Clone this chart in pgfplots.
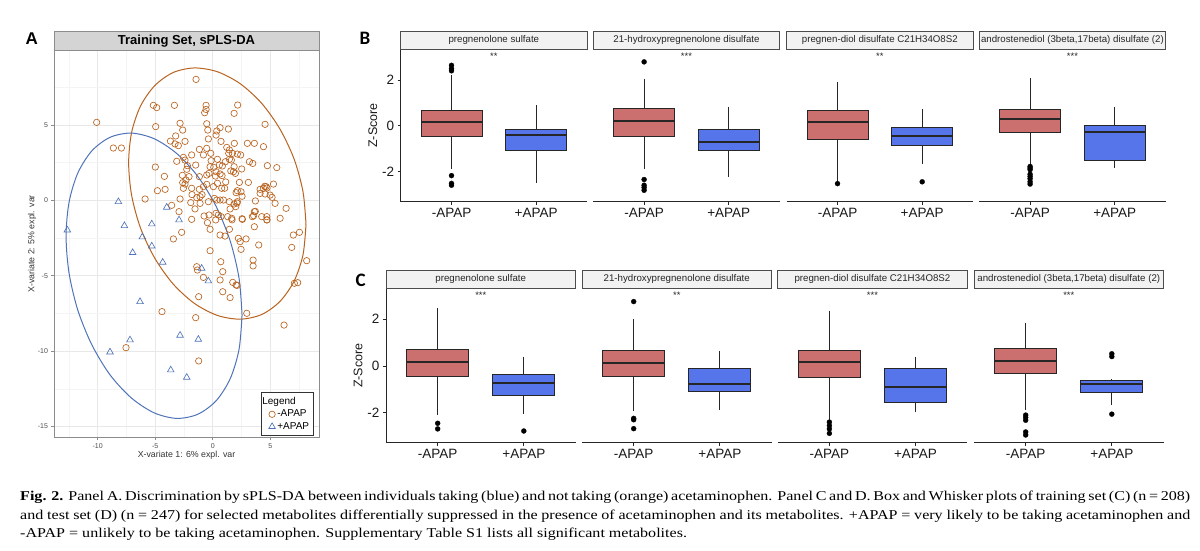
\documentclass[border=0pt]{standalone}
\usepackage{fontspec}
\setmainfont{Liberation Sans}
\newfontfamily\capfont[FakeStretch=1.19]{Liberation Serif}
\newfontfamily\labfont{Carlito}
\usepackage{pgfplots}
\pgfplotsset{compat=1.18}
\usepgfplotslibrary{statistics}
\definecolor{apapor}{RGB}{184,99,31}
\definecolor{apapbl}{RGB}{79,115,184}
\definecolor{boxred}{RGB}{203,111,111}
\definecolor{boxblue}{RGB}{86,117,234}
\definecolor{stripA}{RGB}{212,212,212}
\definecolor{stripB}{RGB}{242,242,242}
\pgfplotsset{
  facet/.style={
    scale only axis, anchor=south west,
    xmin=0.4, xmax=2.6,
    axis x line*=bottom,
    axis line style={-, black!85, line width=0.8pt},
    xtick={1,2}, xticklabels={-APAP,+APAP},
    tick align=outside, major tick length=3pt,
    tick style={black!85, line width=0.8pt},
    ticklabel style={font=\fontsize{13.5}{15}\selectfont, text=black!90},
    boxplot/draw direction=y,
    boxplot/every median/.style={line width=2pt},
    clip=false,
  },
  facetfirst/.style={facet, axis y line*=left, ytick={-2,0,2}, yticklabels={-2,0,2}, ylabel={Z-Score},
    every axis y label/.style={at={(rel axis cs:0,0.5)}, xshift=-28pt, rotate=90, anchor=center, font=\fontsize{12.5}{14}\selectfont, text=black!90}},
  facetrest/.style={facet, axis y line=none},
  fB/.style={width=186.3pt, height=152.4pt, ymin=-3.32, ymax=3.34},
  fC/.style={width=189.5pt, height=154pt, ymin=-3.28, ymax=3.30},
  redbox/.style={draw=black!85, fill=boxred, line width=0.9pt, mark=*, mark size=2.5pt, mark options={fill=black, draw=black, line width=0.3pt}},
  bluebox/.style={draw=black!85, fill=boxblue, line width=0.9pt, mark=*, mark size=2.5pt, mark options={fill=black, draw=black, line width=0.3pt}},
}
\tikzset{stripstyleB/.style={fill=stripB, draw=black!70, line width=0.6pt},
  stars/.style={font=\fontsize{9.4}{10}\selectfont, text=black!85}}
\begin{document}
\begin{tikzpicture}
\useasboundingbox (0,0) rectangle (1200pt,-551pt);

% ---------------- Panel A ----------------
\node[anchor=base west, font=\bfseries\fontsize{17}{18}\selectfont] at (22pt,-45pt) {A};
\begin{axis}[
  at={(54pt,-437.7pt)}, anchor=south west, scale only axis,
  width=265pt, height=387.7pt,
  xmin=-13.8, xmax=9.24, ymin=-15.74, ymax=9.97,
  xtick={-10,-5,0,5}, xticklabels={-10,-5,0,5},
  ytick={-15,-10,-5,0,5}, yticklabels={-15,-10,-5,0,5},
  minor xtick={-12.5,-7.5,-2.5,2.5,7.5},
  minor ytick={-12.5,-7.5,-2.5,2.5,7.5},
  grid=both,
  major grid style={black!9, line width=0.8pt},
  minor grid style={black!4.5, line width=0.5pt},
  minor tick length=0pt,
  tick pos=left, tick align=outside, major tick length=2.5pt,
  tick style={black!45, line width=0.6pt},
  axis line style={black!45, line width=0.7pt},
  ticklabel style={font=\fontsize{7}{8}\selectfont, text=black!70},
  xlabel={X-variate 1: 6\% expl. var},
  ylabel={X-variate 2: 5\% expl. var},
  every axis x label/.style={at={(rel axis cs:0.5,0)}, anchor=center, yshift=-17.5pt, font=\fontsize{8.8}{10}\selectfont, text=black!80},
  every axis y label/.style={at={(rel axis cs:0,0.5)}, xshift=-22pt, rotate=90, anchor=center, font=\fontsize{8.8}{10}\selectfont, text=black!80},
  legend style={at={(rel axis cs:1,0)}, anchor=south east, xshift=-5pt, yshift=2pt,
    draw=black!80, line width=0.7pt, font=\fontsize{10}{11}\selectfont, row sep=0pt, inner sep=2.5pt},
  legend cell align=left,
]
\addlegendimage{empty legend}
\addlegendentry{\hspace*{-15pt}Legend}
\addplot[only marks, mark=o, mark size=3.2pt, color=apapor, mark options={line width=0.65pt}] coordinates {
(-1.45,8.02) (-5.16,6.30) (-4.87,6.15) (-3.33,6.30) (-0.58,6.30) (-0.58,6.03) (-0.70,5.81) (2.17,6.32) (1.86,5.77)
(-10.09,5.17) (-4.96,4.89) (-2.84,5.11) (-2.61,4.66) (-0.52,5.08) (-0.43,4.66) (0.64,4.82) (0.35,4.60) (0.29,4.33)
(1.36,4.73) (4.55,5.04) (-3.22,4.27) (-3.68,3.93) (-3.28,3.74) (-2.99,3.63) (-2.41,3.91) (-0.38,4.07) (0.72,3.91)
(1.88,3.78) (3.01,3.78) (3.62,3.78) (4.41,3.56) (-8.64,3.47) (-7.94,3.47) (-1.16,3.38) (-0.52,3.45) (1.22,3.51)
(1.45,3.34) (-0.81,3.01) (-0.17,3.12) (1.39,3.12) (1.71,3.12) (2.14,3.07) (2.43,3.01) (-1.83,3.01) (-2.55,2.85)
(-2.41,2.67) (-3.13,2.59) (-1.48,2.34) (-0.14,2.63) (0.41,2.72) (1.10,2.56) (1.45,2.72) (1.62,2.67) (0.58,2.34)
(3.19,2.56) (3.48,2.45) (4.75,2.30) (5.57,2.17) (-4.99,2.21) (-2.20,2.30) (-2.26,2.06) (-0.23,2.23) (0.09,2.19)
(0.84,2.28) (1.86,2.23) (2.52,2.08) (-4.20,1.59) (-2.64,1.66) (-2.06,1.57) (-2.32,1.35) (-2.61,1.17) (-2.41,1.08)
(-1.16,1.57) (-0.52,1.68) (-0.32,1.79) (0.23,1.61) (0.29,1.90) (1.57,1.95) (1.80,1.90) (1.97,1.79) (0.81,1.64)
(0.64,1.75) (2.32,1.19) (3.10,1.19) (-0.52,1.06) (0.41,1.13) (1.13,1.22) (-2.55,0.80) (-1.83,0.80) (-1.16,0.73)
(-0.81,0.91) (-4.81,0.64) (-4.14,0.73) (-1.80,0.38) (-1.10,0.24) (-0.93,0.38) (0.06,0.91) (0.78,0.80) (1.04,0.80)
(2.14,0.64) (2.46,0.57) (2.03,0.51) (4.12,0.73) (4.41,0.80) (4.64,0.91) (5.28,1.08) (4.55,0.42) (4.99,0.35)
(4.12,0.46) (-5.88,0.09) (-3.57,-0.33) (-2.84,0.09) (-1.91,-0.15) (-1.39,0.18) (-1.10,-0.20) (-0.38,-0.09)
(0.14,0.13) (0.35,0.02) (0.64,0.02) (0.93,0.02) (1.45,-0.09) (1.86,-0.24) (2.14,-0.09) (2.00,-0.42) (3.71,-0.04)
(5.16,0.20) (5.42,-0.20) (-2.93,-0.75) (-1.54,-0.57) (-0.75,-1.04) (-0.32,-0.97) (0.29,-0.86) (0.49,-0.97)
(0.72,-1.08) (1.51,-0.57) (2.58,-1.26) (3.45,-1.08) (3.62,-0.75) (4.26,-1.08) (4.70,-1.08) (4.70,-1.30)
(5.86,-1.19) (6.38,-0.53) (-1.83,-1.26) (-0.46,-1.48) (0.26,-1.30) (1.30,-1.08) (1.65,-1.19) (-2.70,-2.12)
(-3.42,-2.56) (-0.23,-1.92) (0.64,-2.30) (1.07,-2.37) (1.45,-1.92) (2.23,-2.52) (2.38,-2.74) (2.90,-2.56)
(3.62,-1.75) (2.46,-3.25) (4.00,-2.96) (-0.23,-3.34) (7.01,-2.30) (7.54,-2.12) (6.87,-3.12) (8.17,-4.00)
(0.70,-4.07) (0.87,-4.73) (0.64,-5.28) (0.87,-6.06) (1.51,-6.45) (1.74,-5.44) (2.03,-5.61) (3.51,-3.96)
(3.51,-4.35) (-1.39,-4.40) (-1.33,-4.62) (-0.81,-5.11) (-1.22,-6.39) (2.96,-7.49) (-4.41,-7.38) (-1.48,-7.78)
(6.20,-8.27) (7.10,-5.50) (7.39,-5.46) (-7.54,-9.77) (-1.22,-10.65) (4.52,0.93) (4.72,0.82) (2.55,0.27)
(2.11,-0.18) (3.70,-0.73) (3.56,-1.02) (4.72,-1.29) (2.55,-1.22) (1.68,-1.29) (2.11,-5.64)
};
\addlegendentry{-APAP}
\addplot[only marks, mark=triangle, mark size=3.8pt, color=apapbl, mark options={line width=0.65pt}] coordinates {
(-12.64,-1.97) (-8.20,-0.09) (-7.68,-1.68) (-6.96,-3.47) (-6.12,-2.43) (-5.30,-1.57) (-5.30,-3.03) (-4.00,-0.46)
(-2.93,-1.30) (-4.35,-4.11) (-6.32,-6.72) (-7.19,-9.26) (-8.93,-10.06) (-2.84,-8.95) (-1.25,-9.22) (-3.65,-11.25)
(-2.26,-11.74) (-0.96,-4.51) (-0.38,-5.35)
};
\addlegendentry{+APAP}
\addplot[apapor, line width=1pt, smooth, forget plot] coordinates {
(8.11,-1.59) (7.85,0.57) (7.08,2.73) (5.85,4.72) (4.26,6.43) (2.40,7.73) (0.40,8.53) (-1.60,8.78) (-3.46,8.47)
(-5.05,7.60) (-6.28,6.25) (-7.05,4.51) (-7.31,2.49) (-7.05,0.33) (-6.28,-1.83) (-5.05,-3.82) (-3.46,-5.53)
(-1.60,-6.83) (0.40,-7.63) (2.40,-7.88) (4.26,-7.57) (5.85,-6.70) (7.08,-5.35) (7.85,-3.61) (8.11,-1.59)
};
\addplot[apapbl, line width=1pt, smooth, forget plot] coordinates {
(2.55,-7.61) (2.29,-5.17) (1.53,-2.72) (0.31,-0.42) (-1.28,1.57) (-3.12,3.10) (-5.10,4.09) (-7.08,4.46)
(-8.93,4.18) (-10.51,3.28) (-11.73,1.81) (-12.49,-0.12) (-12.75,-2.39) (-12.49,-4.83) (-11.73,-7.28)
(-10.51,-9.58) (-8.93,-11.57) (-7.08,-13.10) (-5.10,-14.09) (-3.12,-14.46) (-1.28,-14.18) (0.31,-13.28)
(1.53,-11.81) (2.29,-9.88) (2.55,-7.61)
};
\end{axis}
\draw[fill=stripA, draw=black!45, line width=0.7pt] (54pt,-31.7pt) rectangle (319pt,-50pt);
\node[font=\bfseries\fontsize{13}{15}\selectfont] at (186.5pt,-40.8pt) {Training Set, sPLS-DA};

% ---------------- Panel B ----------------
\node[anchor=base west, font=\labfont\bfseries\fontsize{19}{20}\selectfont] at (356pt,-45pt) {B};
\begin{axis}[facetfirst, fB, at={(400.7pt,-201.7pt)}]
\addplot[boxplot prepared={draw position=1, median=0.15, upper quartile=0.66, lower quartile=-0.45, upper whisker=2.21, lower whisker=-1.90, box extend=0.72, whisker extend=0}, redbox] coordinates {(1,2.64) (1,2.50) (1,2.40) (1,-2.18) (1,-2.52) (1,-2.60)};
\addplot[boxplot prepared={draw position=2, median=-0.41, upper quartile=-0.16, lower quartile=-1.10, upper whisker=0.90, lower whisker=-2.49, box extend=0.72, whisker extend=0}, bluebox] coordinates {};
\node[stars] at (axis cs:1.5,3.03) {**};
\end{axis}
\begin{axis}[facetrest, fB, at={(593.3pt,-201.7pt)}]
\addplot[boxplot prepared={draw position=1, median=0.22, upper quartile=0.76, lower quartile=-0.46, upper whisker=2.03, lower whisker=-1.89, box extend=0.72, whisker extend=0}, redbox] coordinates {(1,2.79) (1,-2.35) (1,-2.60) (1,-2.70) (1,-2.82)};
\addplot[boxplot prepared={draw position=2, median=-0.70, upper quartile=-0.16, lower quartile=-1.09, upper whisker=0.83, lower whisker=-2.23, box extend=0.72, whisker extend=0}, bluebox] coordinates {};
\node[stars] at (axis cs:1.5,3.03) {***};
\end{axis}
\begin{axis}[facetrest, fB, at={(786.7pt,-201.7pt)}]
\addplot[boxplot prepared={draw position=1, median=0.16, upper quartile=0.67, lower quartile=-0.58, upper whisker=1.91, lower whisker=-2.40, box extend=0.72, whisker extend=0}, redbox] coordinates {(1,-2.53)};
\addplot[boxplot prepared={draw position=2, median=-0.44, upper quartile=-0.06, lower quartile=-0.87, upper whisker=0.74, lower whisker=-1.67, box extend=0.72, whisker extend=0}, bluebox] coordinates {(2,-2.45)};
\node[stars] at (axis cs:1.5,3.03) {**};
\end{axis}
\begin{axis}[facetrest, fB, at={(979.3pt,-201.7pt)}]
\addplot[boxplot prepared={draw position=1, median=0.29, upper quartile=0.72, lower quartile=-0.28, upper whisker=2.07, lower whisker=-1.70, box extend=0.72, whisker extend=0}, redbox] coordinates {(1,-1.78) (1,-1.85) (1,-1.92) (1,-2.12) (1,-2.22) (1,-2.32) (1,-2.45) (1,-2.55)};
\addplot[boxplot prepared={draw position=2, median=-0.26, upper quartile=0.00, lower quartile=-1.51, upper whisker=0.80, lower whisker=-1.83, box extend=0.72, whisker extend=0}, bluebox] coordinates {};
\node[stars] at (axis cs:1.5,3.03) {***};
\end{axis}
\draw[stripstyleB] (400.7pt,-31pt) rectangle (587pt,-49.3pt);
\draw[stripstyleB] (593.3pt,-31pt) rectangle (779.6pt,-49.3pt);
\draw[stripstyleB] (786.7pt,-31pt) rectangle (973pt,-49.3pt);
\draw[stripstyleB] (979.3pt,-31pt) rectangle (1165.6pt,-49.3pt);
\begin{scope}[every node/.style={font=\fontsize{9.7}{11}\selectfont, text=black!85}]
\node at (493.85pt,-40.2pt) {pregnenolone sulfate};
\node at (686.45pt,-40.2pt) {21-hydroxypregnenolone disulfate};
\node at (879.85pt,-40.2pt) {pregnen-diol disulfate C21H34O8S2};
\node at (1072.45pt,-40.2pt) {androstenediol (3beta,17beta) disulfate (2)};
\end{scope}

% ---------------- Panel C ----------------
\node[anchor=base west, font=\labfont\bfseries\fontsize{19}{20}\selectfont] at (352pt,-286pt) {C};
\begin{axis}[facetfirst, fC, at={(386pt,-442.7pt)}]
\addplot[boxplot prepared={draw position=1, median=0.16, upper quartile=0.71, lower quartile=-0.46, upper whisker=2.47, lower whisker=-2.09, box extend=0.72, whisker extend=0}, redbox] coordinates {(1,-2.45) (1,-2.69)};
\addplot[boxplot prepared={draw position=2, median=-0.74, upper quartile=-0.35, lower quartile=-1.25, upper whisker=0.40, lower whisker=-2.06, box extend=0.72, whisker extend=0}, bluebox] coordinates {(2,-2.78)};
\node[stars] at (axis cs:1.5,3.02) {***};
\end{axis}
\begin{axis}[facetrest, fC, at={(582pt,-442.7pt)}]
\addplot[boxplot prepared={draw position=1, median=0.14, upper quartile=0.68, lower quartile=-0.43, upper whisker=2.01, lower whisker=-1.92, box extend=0.72, whisker extend=0}, redbox] coordinates {(1,2.75) (1,-2.24) (1,-2.30) (1,-2.68)};
\addplot[boxplot prepared={draw position=2, median=-0.77, upper quartile=-0.09, lower quartile=-1.08, upper whisker=0.64, lower whisker=-1.88, box extend=0.72, whisker extend=0}, bluebox] coordinates {};
\node[stars] at (axis cs:1.5,3.02) {**};
\end{axis}
\begin{axis}[facetrest, fC, at={(777.7pt,-442.7pt)}]
\addplot[boxplot prepared={draw position=1, median=0.17, upper quartile=0.68, lower quartile=-0.51, upper whisker=2.36, lower whisker=-2.30, box extend=0.72, whisker extend=0}, redbox] coordinates {(1,-2.40) (1,-2.55) (1,-2.69) (1,-2.88)};
\addplot[boxplot prepared={draw position=2, median=-0.90, upper quartile=-0.10, lower quartile=-1.54, upper whisker=0.40, lower whisker=-1.98, box extend=0.72, whisker extend=0}, bluebox] coordinates {};
\node[stars] at (axis cs:1.5,3.02) {***};
\end{axis}
\begin{axis}[facetrest, fC, at={(974pt,-442.7pt)}]
\addplot[boxplot prepared={draw position=1, median=0.21, upper quartile=0.74, lower quartile=-0.34, upper whisker=1.82, lower whisker=-1.88, box extend=0.72, whisker extend=0}, redbox] coordinates {(1,-2.10) (1,-2.20) (1,-2.32) (1,-2.82) (1,-2.95)};
\addplot[boxplot prepared={draw position=2, median=-0.77, upper quartile=-0.63, lower quartile=-1.14, upper whisker=-0.57, lower whisker=-1.67, box extend=0.72, whisker extend=0}, bluebox] coordinates {(2,0.52) (2,0.40) (2,-2.06)};
\node[stars] at (axis cs:1.5,3.02) {***};
\end{axis}
\draw[stripstyleB] (386pt,-270pt) rectangle (575.5pt,-288.7pt);
\draw[stripstyleB] (582pt,-270pt) rectangle (771.5pt,-288.7pt);
\draw[stripstyleB] (777.7pt,-270pt) rectangle (967.2pt,-288.7pt);
\draw[stripstyleB] (974pt,-270pt) rectangle (1163.5pt,-288.7pt);
\begin{scope}[every node/.style={font=\fontsize{9.7}{11}\selectfont, text=black!85}]
\node at (480.75pt,-279.3pt) {pregnenolone sulfate};
\node at (676.75pt,-279.3pt) {21-hydroxypregnenolone disulfate};
\node at (872.45pt,-279.3pt) {pregnen-diol disulfate C21H34O8S2};
\node at (1068.75pt,-279.3pt) {androstenediol (3beta,17beta) disulfate (2)};
\end{scope}

% ---------------- Caption ----------------
\begin{scope}[every node/.style={anchor=base west, inner sep=0pt, font=\capfont\fontsize{13.5}{18}\selectfont}]
\node at (20pt,-500.7pt) {\makebox[1170pt][s]{\textbf{Fig. 2.} Panel A. Discrimination by sPLS-DA between individuals taking (blue) and not taking (orange) acetaminophen. Panel C and D. Box and Whisker plots of training set (C) (n = 208)}};
\node at (20pt,-519pt) {\makebox[1170pt][s]{and test set (D) (n = 247) for selected metabolites differentially suppressed in the presence of acetaminophen and its metabolites. +APAP = very likely to be taking acetaminophen and}};
\node at (20pt,-537.3pt) {-APAP = unlikely to be taking acetaminophen. Supplementary Table S1 lists all significant metabolites.};
\end{scope}
\end{tikzpicture}
\end{document}
